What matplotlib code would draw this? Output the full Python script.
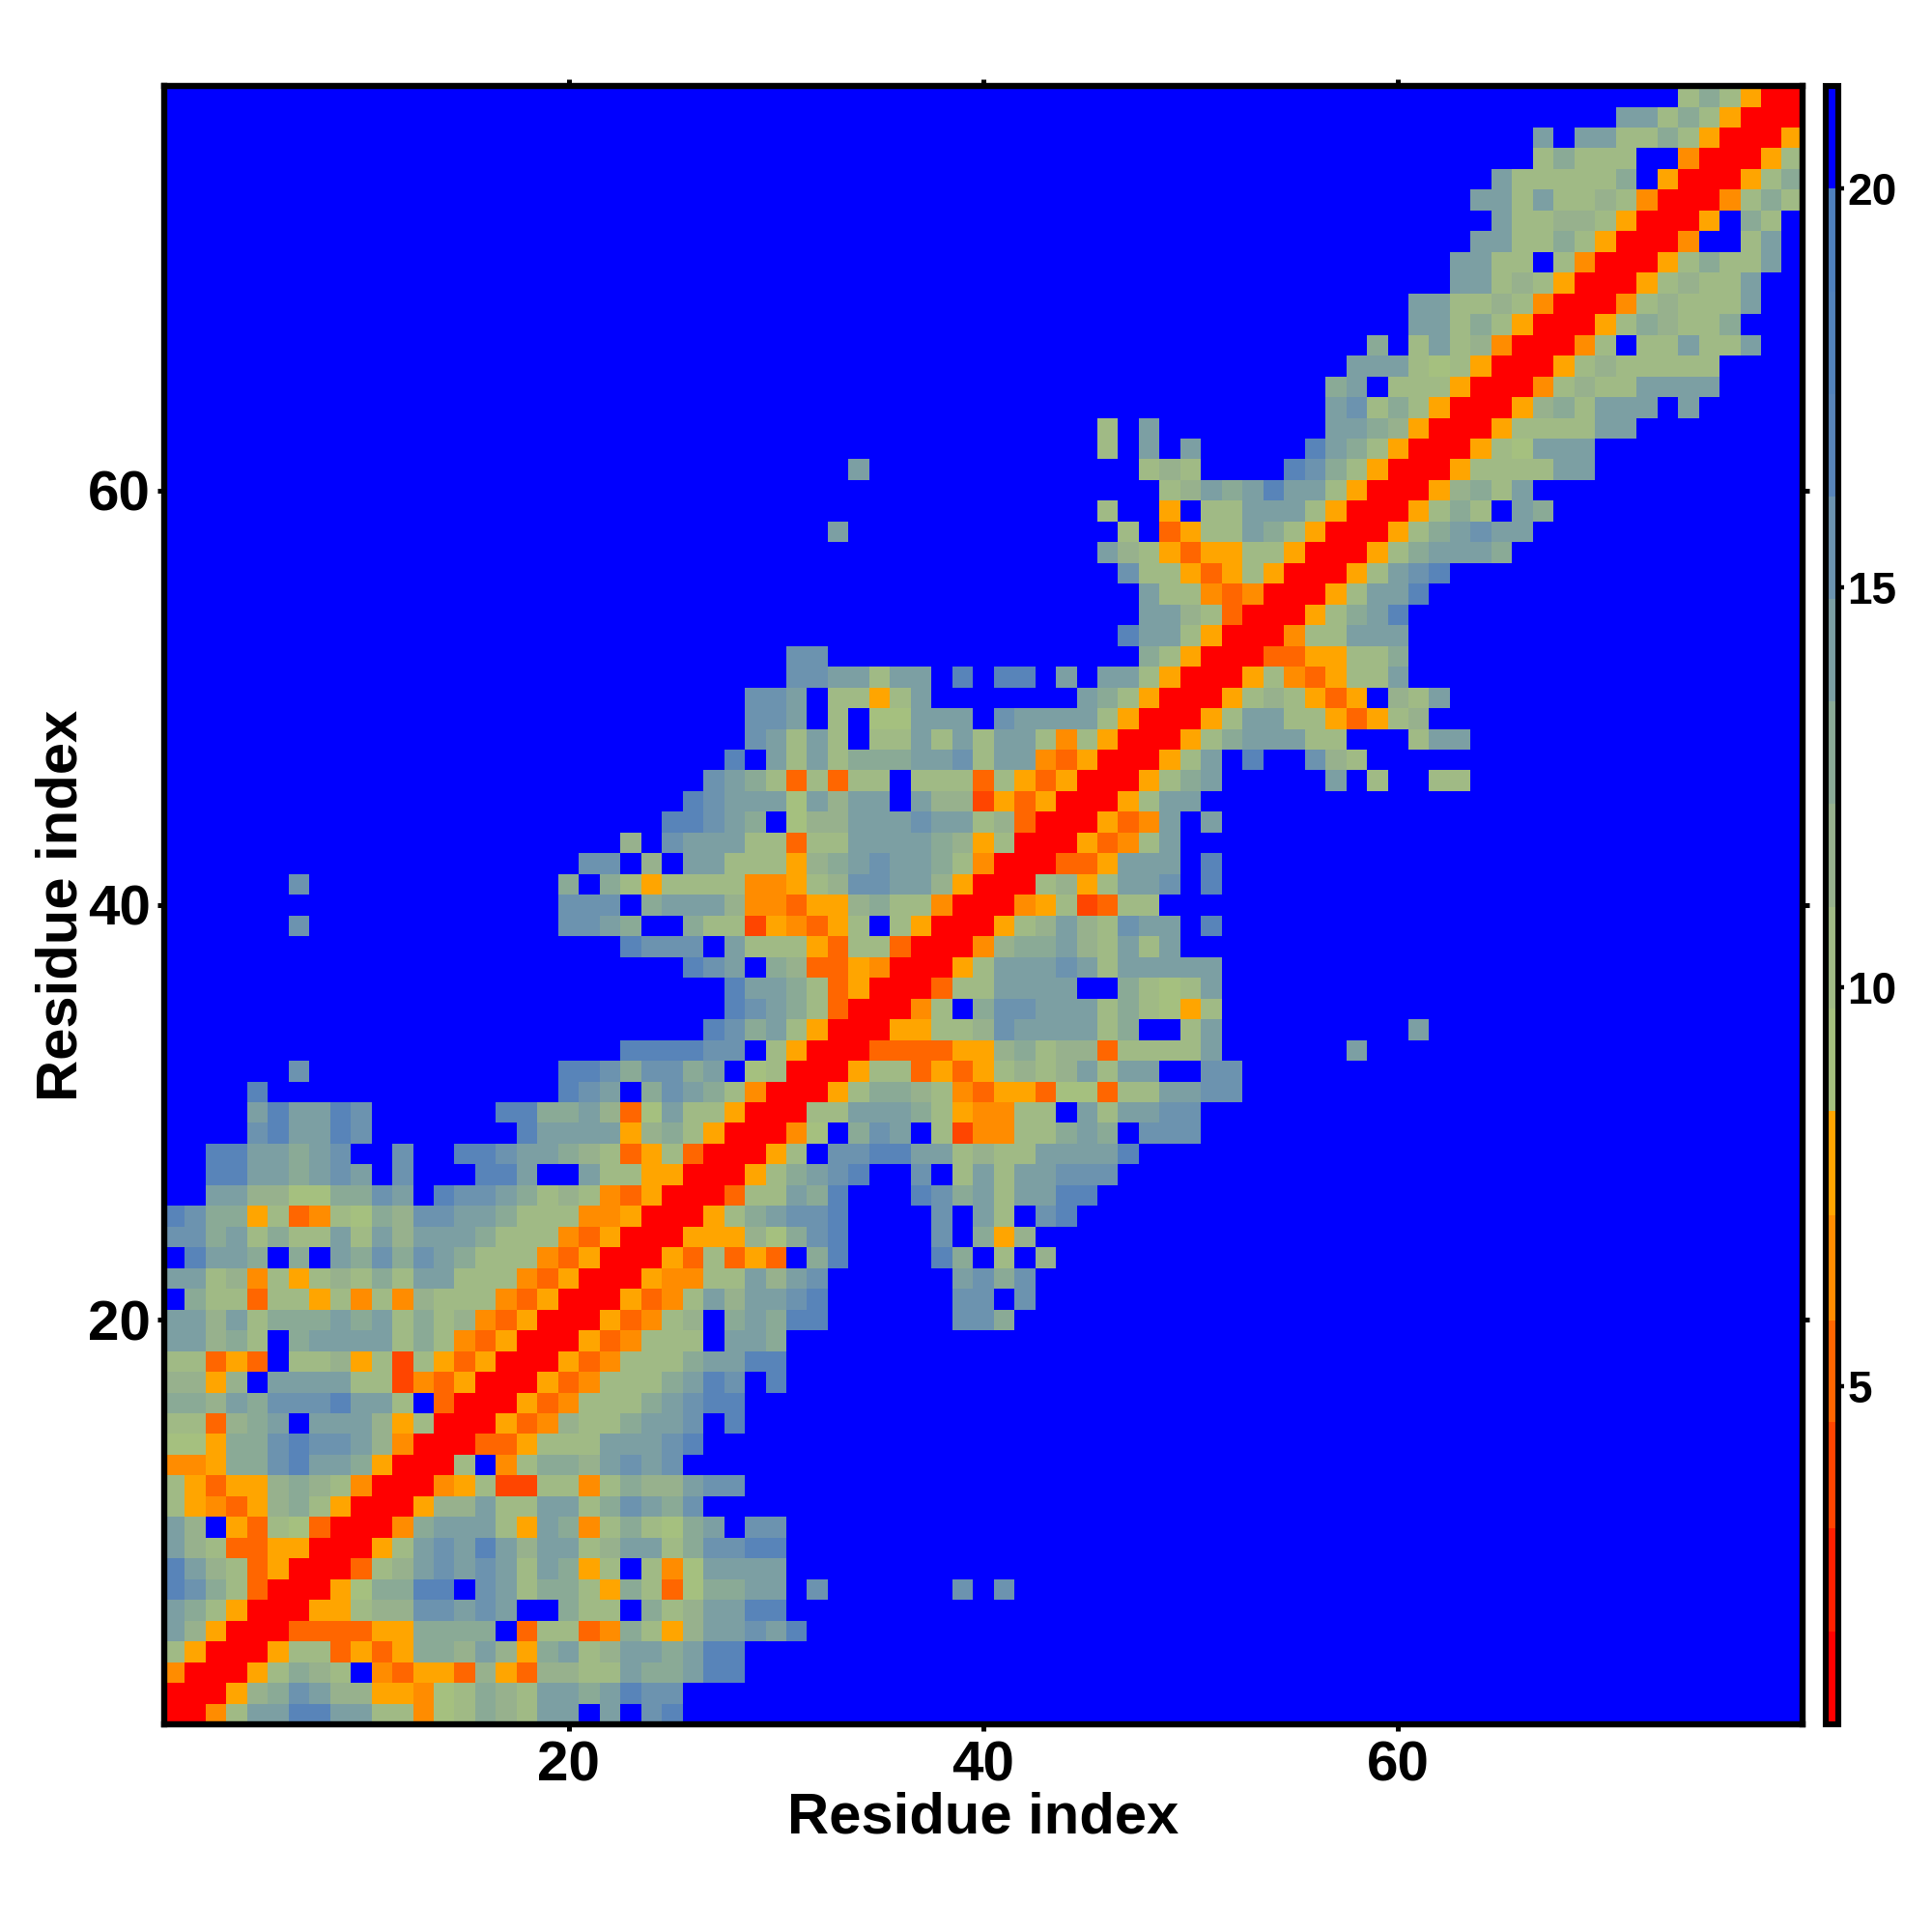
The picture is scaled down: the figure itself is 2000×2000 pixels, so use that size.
import numpy as np
import matplotlib
matplotlib.use("Agg")
import matplotlib.pyplot as plt
from matplotlib.colors import ListedColormap, BoundaryNorm
from matplotlib.cm import ScalarMappable

plt.rcParams['font.family'] = ['Liberation Sans', 'DejaVu Sans']
plt.rcParams['font.weight'] = 'bold'

# Distance classes; one character per residue, lower triangle
LEVEL_CODES = "RUQPOYabcdefghiz"
LEVEL_EDGES = [0.77, 1.93, 3.23, 4.55, 5.83, 7.14, 8.45, 9.73, 11.0, 12.29,
               13.58, 14.86, 16.14, 17.42, 18.71, 20.0, 21.28]
LEVEL_COLORS = ["#FF0000", "#FF2000", "#FF4500", "#FF6600", "#FF8C00", "#FFA500",
                "#A5C07F", "#A0BA85", "#97B18D", "#8AAA96", "#7C9FA3", "#6C93AF",
                "#5884B9", "#5282BB", "#4F80BD", "#0000FF"]
TICKS_MAIN = [20, 40, 60]
TICKS_BAR = [5, 10, 15, 20]

ROWS = [
"R",
"RR",
"ORR",
"bYRR",
"ecYRR",
"edbYRR",
"gfdbPRR",
"gecbPYRR",
"ecbPPYYRR",
"eczYPbaPRR",
"bYOPYcdbYRR",
"bYPYYcdcbORR",
"OOYddfgeedYRR",
"aaYddfgffecORR",
"bbPcdezeeecYbRR",
"ddcedfffgeebzPRR",
"ccYczeeeebbQOPYRR",
"bbPYPzbbcYbQbYPYRR",
"eecdbzdeeeebdbOPYRR",
"eecebdddedebdbcOPYRR",
"zdbbPbbYbObOcbbbOPYRR",
"eebcObYbcbdbeebbbOPYRR",
"zgeedzdzedfdfedbbbOPYRR",
"ffdebdbbebeceeedbbbOPYRR",
"gfddYbPObadcffeedbbbOOYRR",
"zzeeccaaddfezgffedbcbOPYRR",
"zzggeedefezfzzzggezzebbYYRR",
"zzggeedefzzfzzggfeedcbPYbPRR",
"zzzzfgeegf" + "z"*7 + "geeeeYcdbYRR",
"zzzzegeegf" + "z"*6 + "ggddecPaebbYRR",
"zzzzg" + "z"*14 + "gfezdfedbORR",
"z"*6 + "f" + "z"*12 + "ggfdffdezabRR",
"z"*22 + "ggggffzbYRR",
"z"*26 + "gfdebYRR",
"z"*27 + "gfedbPRR",
"z"*27 + "geedbPYRR",
"z"*25 + "gfezdcPPYORR",
"z"*22 + "gfffzebbbYPbbPRR",
"z"*6 + "f" + "z"*12 + "ffedzzdbbQYOPYbzbYRR",
"z"*19 + "fffzdeeecOOPYYcdbbORR",
"z"*6 + "f" + "z"*12 + "dzdbYbbbbOOYbcffeecYRR",
"z"*20 + "ffzczeebbbYcdefeedbORR",
"z"*22 + "czfeeebbPbbeeeedcYbRR",
"z"*24 + "ggfedzacceeefeebcPRR",
"z"*25 + "gfeeeaeceezeccQYPYRR",
"z"*26 + "fedbPbPbbzbbbPbYPYRR",
"z"*27 + "gzebebdddeefbeeOPYRR",
"z"*28 + "febebzbbebebeebObYRR",
"z"*28 + "ffezbzaaeeezfeeeebYRR",
"z"*28 + "ffezbbYbe" + "z"*7 + "edbYRR",
"z"*30 + "ffeebeezgzggzezeebYRR",
"z"*30 + "ff" + "z"*15 + "dbYRR",
"z"*46 + "geebYRR",
"z"*47 + "eecbPRR",
"z"*47 + "ebbOPORR",
"z"*46 + "fbbYPYbYRR",
"z"*45 + "ecbYPYYbbYRR",
"z"*32 + "e" + "z"*13 + "bzPYbbedbYRR",
"z"*45 + "bzzYzbbeeebYRR",
"z"*48 + "bcedegeebYRR",
"z"*33 + "e" + "z"*13 + "bcbzzzzgfdbYRR",
"z"*45 + "bzezezzzzzgedbYRR",
"z"*45 + "bze" + "z"*8 + "eedcYRR",
"z"*56 + "efbdbYRR",
"z"*56 + "dezbbbYRR",
"z"*57 + "eeebabYRR",
"z"*58 + "dzbebcORR",
"z"*60 + "eebdbYRR",
"z"*60 + "eebbcbORR",
"z"*62 + "eebcbYRR",
"z"*62 + "eebbzbORR",
"z"*63 + "eebbdbYRR",
"z"*64 + "ebbccbYRR",
"z"*63 + "eebebbcbORR",
"z"*64 + "ebbbbbdzYRR",
"z"*66 + "bdbbbzzORR",
"z"*66 + "ezeebbdbYRR",
"z"*70 + "eebdbYRR",
"z"*73 + "bdbYRR",
]

# Decode classes to distances at the middle of each class
mid = {c: 0.5 * (LEVEL_EDGES[k] + LEVEL_EDGES[k + 1]) for k, c in enumerate(LEVEL_CODES)}
n = len(ROWS)
dist = np.full((n, n), mid["z"])
for j, row in enumerate(ROWS):
    for i, c in enumerate(row):
        dist[j, i] = mid[c]
        dist[i, j] = mid[c]

cmap = ListedColormap(LEVEL_COLORS)
norm = BoundaryNorm(LEVEL_EDGES, cmap.N)

fig = plt.figure(figsize=(10, 10), dpi=200)
ax = fig.add_axes([0.085, 0.1075, 0.848, 0.848])
ax.imshow(dist, origin="lower", cmap=cmap, norm=norm, interpolation="nearest",
          extent=(0.5, n + 0.5, 0.5, n + 0.5), aspect="auto")
for s in ax.spines.values():
    s.set_linewidth(2.3)
ax.set_xticks(TICKS_MAIN)
ax.set_yticks(TICKS_MAIN)
ax.tick_params(which="both", direction="out", length=2.6, width=1.8,
               top=True, right=True, labeltop=False, labelright=False,
               labelsize=21)
ax.tick_params(axis="x", pad=3.2)
ax.tick_params(axis="y", pad=2.4)
ax.set_xlabel("Residue index", fontsize=21.5, fontweight="bold")
ax.set_ylabel("Residue index", fontsize=21.5, fontweight="bold")
ax.xaxis.set_label_coords(0.5, -0.057)
ax.yaxis.set_label_coords(-0.0625, 0.5)
ax.xaxis.label.set_va("center")
ax.yaxis.label.set_va("center")
for t in ax.get_xticklabels() + ax.get_yticklabels():
    t.set_fontweight("bold")

cax = fig.add_axes([0.945, 0.1075, 0.0065, 0.848])
cb = fig.colorbar(ScalarMappable(norm=norm, cmap=cmap), cax=cax, spacing="proportional",
                  ticks=TICKS_BAR, drawedges=False)
cb.minorticks_off()
cb.outline.set_linewidth(2.2)
cb.ax.tick_params(direction="out", length=2.2, width=1.6, labelsize=16.5, pad=1.2)
for t in cb.ax.get_yticklabels():
    t.set_fontweight("bold")

fig.savefig("out.png", dpi=200)
